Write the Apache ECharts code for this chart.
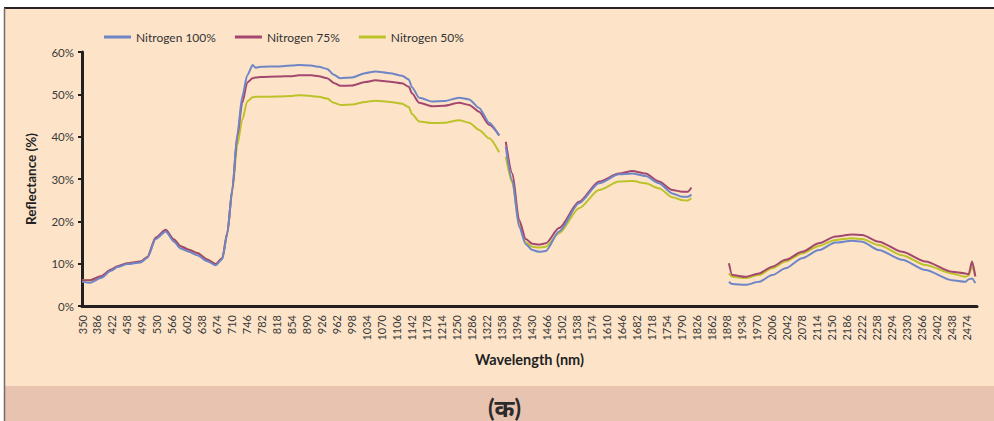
<!DOCTYPE html>
<html>
<head>
<meta charset="utf-8">
<script src="https://cdn.jsdelivr.net/npm/echarts@6/dist/echarts.min.js"></script>
<style>
  html, body { margin: 0; padding: 0; background: #fff; }
  #chart { width: 994px; height: 421px; }
</style>
</head>
<body>
<div id="chart"></div>
<script>
// wavelength (nm) of each read point; '-' rows break the line (water bands)
const wavelengths = [
  350, 370, 395, 420, 435, 459, 491, 507, 527, 551, 571, 587, 607, 627, 651, 671, 687, 699,
  711, 723, 735, 747, 760, 767, 780, 820, 855, 871, 900, 919, 939, 955, 971, 999, 1030, 1055,
  1090, 1119, 1135, 1143, 1160, 1191, 1220, 1256, 1280, 1304, 1328, 1352, 1360, 1368, 1384,
  1400, 1416, 1432, 1448, 1464, 1496, 1544, 1592, 1640, 1672, 1704, 1736, 1768, 1792, 1805,
  1814, 1860, 1904, 1912, 1944, 1976, 2008, 2040, 2080, 2120, 2160, 2200, 2224, 2264, 2320,
  2376, 2440, 2472, 2480, 2488, 2496
];
const nitrogen100 = [
  5.7, 5.5, 6.6, 8.3, 9.2, 9.9, 10.3, 11.4, 15.8, 17.6, 15.2, 13.6, 12.8, 12.0, 10.6, 9.6, 11.1, 17.0,
  27.5, 40.5, 49.5, 54.5, 56.9, 56.3, 56.5, 56.6, 56.8, 56.9, 56.8, 56.5, 56.0, 54.6, 53.8, 54.0, 55.0, 55.4,
  55.0, 54.4, 53.5, 51.6, 49.2, 48.3, 48.4, 49.2, 48.8, 46.8, 43.3, 40.2, '-', 37.6, 29.5,
  18.7, 14.6, 13.2, 12.8, 13.0, 17.6, 24.3, 29.0, 31.1, 31.3, 30.7, 29.0, 26.6, 25.8, 25.8,
  26.3, '-', 5.7, 5.2, 5.0, 5.7, 7.3, 8.9, 11.3, 13.2, 15.0, 15.4, 15.2, 13.2, 10.9,
  8.5, 6.1, 5.7, 6.3, 6.5, 5.4
];
const nitrogen75 = [
  6.1, 6.1, 7.0, 8.6, 9.4, 10.1, 10.5, 11.6, 16.2, 18.0, 15.7, 14.1, 13.3, 12.5, 11.0, 9.9, 11.3, 17.3,
  27.5, 40.0, 48.0, 52.8, 53.8, 54.0, 54.1, 54.2, 54.3, 54.5, 54.5, 54.3, 53.8, 52.7, 52.0, 52.1, 52.9, 53.3,
  53.0, 52.6, 51.8, 50.2, 48.0, 47.2, 47.3, 48.0, 47.5, 45.9, 42.8, 40.4, '-', 38.8, 31.3,
  20.3, 15.8, 14.7, 14.5, 14.8, 18.4, 24.6, 29.4, 31.3, 31.9, 31.3, 29.4, 27.4, 27.0, 27.0,
  28.0, '-', 10.1, 7.3, 6.9, 7.7, 9.3, 10.9, 12.8, 14.8, 16.4, 16.9, 16.8, 15.2, 12.8,
  10.5, 8.1, 7.7, 7.5, 10.5, 7.0
];
const nitrogen50 = [
  6.1, 6.1, 6.9, 8.5, 9.3, 10.1, 10.5, 11.6, 16.0, 17.8, 15.7, 14.1, 13.3, 12.5, 11.0, 9.9, 11.3, 17.2,
  27.0, 38.0, 44.0, 48.3, 49.3, 49.4, 49.4, 49.5, 49.6, 49.8, 49.6, 49.4, 49.0, 48.0, 47.5, 47.6, 48.2, 48.5,
  48.2, 47.8, 47.0, 45.3, 43.6, 43.2, 43.3, 43.9, 43.3, 41.6, 39.6, 36.3, '-', 35.3, 29.0,
  19.5, 15.0, 14.0, 13.8, 14.0, 17.2, 23.1, 27.4, 29.4, 29.5, 29.0, 27.8, 25.7, 25.0, 24.9,
  25.5, '-', 7.7, 6.9, 6.6, 7.3, 8.9, 10.5, 12.4, 14.2, 15.6, 16.0, 15.8, 14.4, 12.0,
  9.7, 7.7, 6.9, 7.2, 9.3, 7.0
];
const tickLabels = [
  350, 386, 422, 458, 494, 530, 566, 602, 638, 674, 710, 746, 782, 818, 854, 890, 926, 962, 998, 1034,
  1070, 1106, 1142, 1178, 1214, 1250, 1286, 1322, 1358, 1394, 1430, 1466, 1502, 1538, 1574, 1610, 1646,
  1682, 1718, 1754, 1790, 1826, 1862, 1898, 1934, 1970, 2006, 2042, 2078, 2114, 2150, 2186, 2222, 2258,
  2294, 2330, 2366, 2402, 2438, 2474
];
const seriesNames = ['Nitrogen 100%', 'Nitrogen 75%', 'Nitrogen 50%'];
const seriesColors = ['#6F86C6', '#A4476F', '#BCC229'];

const pairs = vals => wavelengths.map((w, i) => [w, vals[i]]);

const chart = echarts.init(document.getElementById('chart'), null, { renderer: 'svg' });

const font = 'Lato, "Noto Sans", sans-serif';

chart.setOption({
  animation: false,
  textStyle: { fontFamily: font },
  graphic: [
    {
      type: 'rect', z: -10, silent: true,
      shape: { x: 4, y: 8, width: 994, height: 378 },
      style: { fill: '#FDE4C9', stroke: null }
    },
    {
      type: 'rect', z: -10, silent: true,
      shape: { x: 4, y: 386, width: 994, height: 40 },
      style: { fill: '#E8C4B0' }
    },
    {
      type: 'line', z: -5, silent: true,
      shape: { x1: 4, y1: 8, x2: 994, y2: 8 },
      style: { stroke: '#2a2222', lineWidth: 2 }
    },
    {
      type: 'line', z: -5, silent: true,
      shape: { x1: 4.5, y1: 8, x2: 4.5, y2: 421 },
      style: { stroke: '#7a6a66', lineWidth: 1.5 }
    },
    {
      type: 'text', silent: true,
      left: 488, top: 395,
      style: { text: '(क)', fontSize: 24, fontWeight: 'bold', fill: '#2b2b2b', fontFamily: font }
    }
  ],
  legend: {
    left: 104, top: 31, padding: 0,
    itemWidth: 27, itemHeight: 3, itemGap: 19,
    icon: 'rect',
    textStyle: { fontSize: 12, color: '#333', fontFamily: font },
    data: seriesNames
  },
  grid: { left: 82, right: 17, top: 52, bottom: 115, containLabel: false },
  xAxis: {
    type: 'value',
    min: 350, max: 2500,
    name: 'Wavelength (nm)',
    nameLocation: 'middle',
    nameGap: 46,
    nameMoveOverlap: false,
    nameTextStyle: { fontSize: 14.5, fontWeight: 'bold', color: '#222', fontFamily: font },
    axisLine: { show: true, onZero: false, lineStyle: { color: '#231F20', width: 3 } },
    axisTick: { show: false },
    splitLine: { show: false },
    axisLabel: {
      customValues: tickLabels,
      formatter: v => String(v),
      rotate: 90,
      margin: 9,
      fontSize: 11,
      color: '#3a3a3a',
      fontFamily: font
    }
  },
  yAxis: {
    type: 'value',
    min: 0, max: 60, interval: 10,
    name: 'Reflectance (%)',
    nameLocation: 'middle',
    nameGap: 44,
    nameMoveOverlap: false,
    nameTextStyle: { fontSize: 13.5, fontWeight: 'bold', color: '#222', fontFamily: font },
    axisLine: { show: true, lineStyle: { color: '#231F20', width: 3 } },
    axisTick: { show: true, length: 4, lineStyle: { color: '#231F20', width: 2 } },
    splitLine: { show: false },
    axisLabel: { formatter: '{value}%', fontSize: 11.5, color: '#3a3a3a', margin: 8, fontFamily: font }
  },
  series: [nitrogen100, nitrogen75, nitrogen50].map((vals, i) => ({
    name: seriesNames[i],
    type: 'line',
    data: pairs(vals),
    showSymbol: false,
    connectNulls: false,
    smooth: 0.25,
    smoothMonotone: 'x',
    color: seriesColors[i],
    lineStyle: { width: 2, color: seriesColors[i] },
    z: 3 - i
  }))
});
</script>
</body>
</html>
